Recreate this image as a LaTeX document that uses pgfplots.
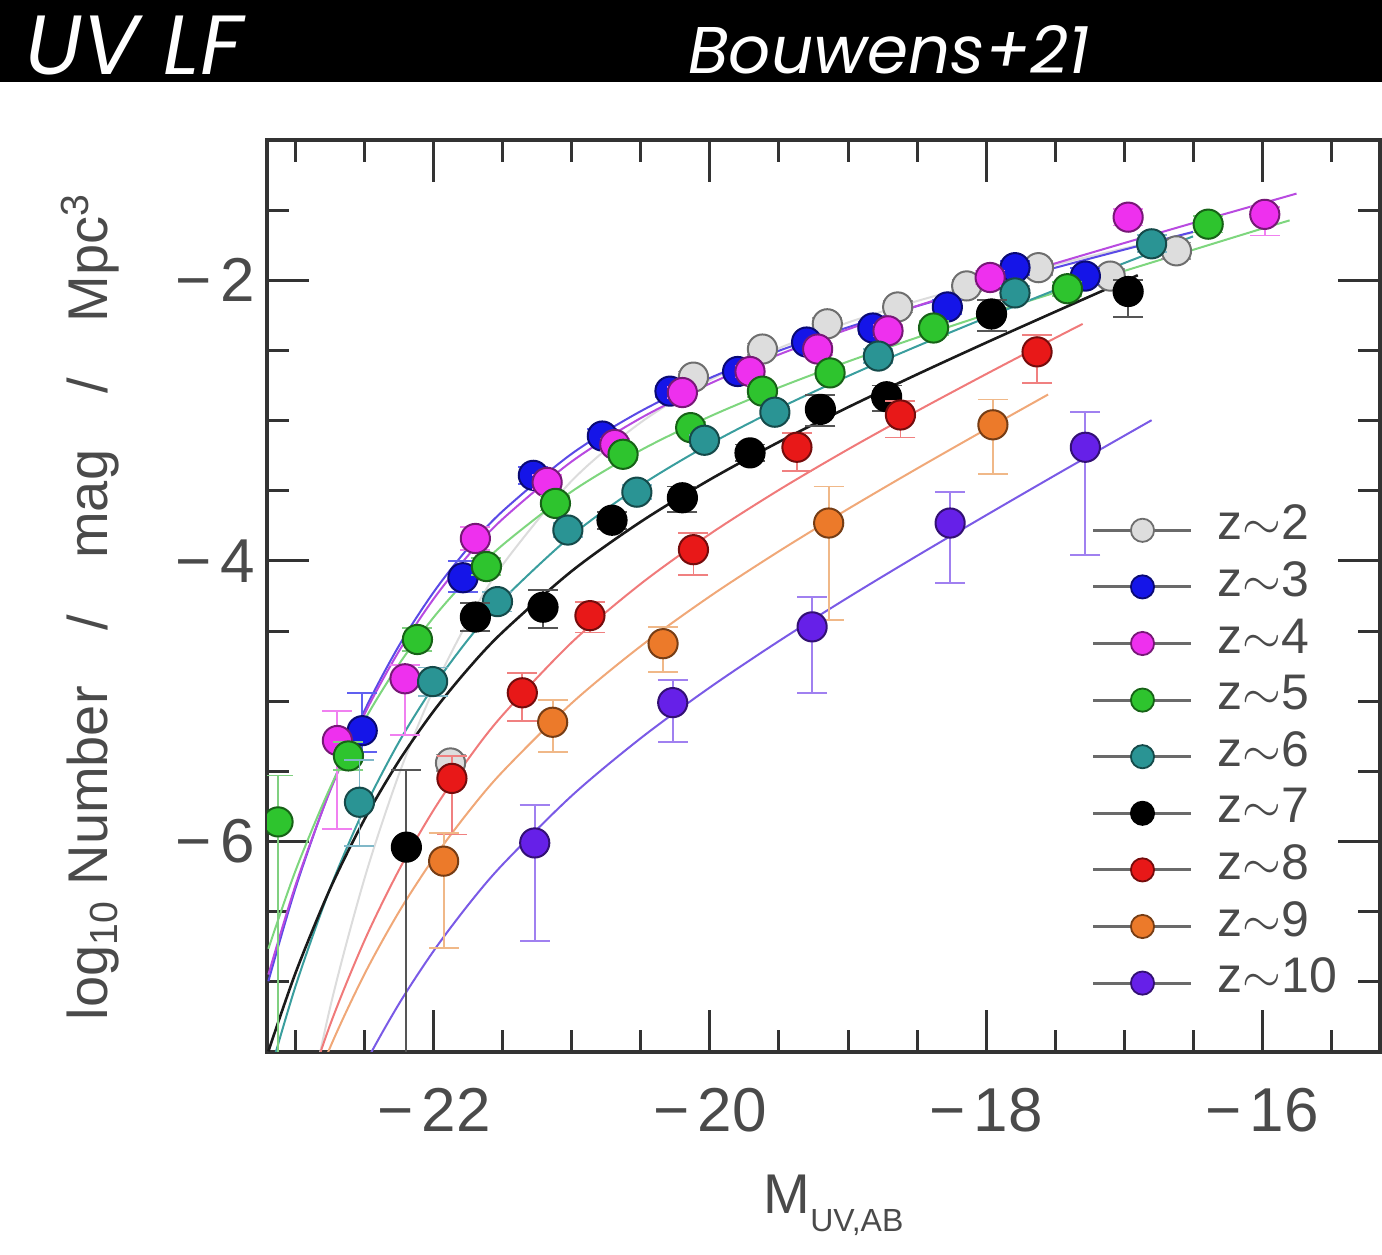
\documentclass[border=0pt]{standalone}
\usepackage{pgfplots}
\pgfplotsset{compat=1.18}
\usepackage{fontspec}
\setmainfont{Liberation Sans}
\newfontfamily\bannerfont{Poppins}

\definecolor{txt}{HTML}{4A4A4A}
\definecolor{axc}{HTML}{333333}
\definecolor{legline}{HTML}{6A6A6A}
% point fills
\definecolor{cA}{HTML}{DDDDDD}
\definecolor{cB}{HTML}{1515E8}
\definecolor{cC}{HTML}{EE30EE}
\definecolor{cD}{HTML}{2EC42E}
\definecolor{cE}{HTML}{2A9494}
\definecolor{cF}{HTML}{000000}
\definecolor{cG}{HTML}{E81818}
\definecolor{cH}{HTML}{EC7A2A}
\definecolor{cI}{HTML}{6620E8}
% fit lines
\definecolor{lA}{HTML}{DCDCDC}
\definecolor{lB}{HTML}{5A4AE6}
\definecolor{lC}{HTML}{B84AE0}
\definecolor{lD}{HTML}{7ED67E}
\definecolor{lE}{HTML}{3A9E9E}
\definecolor{lF}{HTML}{1A1A1A}
\definecolor{lG}{HTML}{F07A7A}
\definecolor{lH}{HTML}{F0A878}
\definecolor{lI}{HTML}{7A5AE6}
% error bars
\definecolor{eA}{HTML}{999999}
\definecolor{eB}{HTML}{6060F0}
\definecolor{eC}{HTML}{F080F0}
\definecolor{eD}{HTML}{80D080}
\definecolor{eE}{HTML}{80B8C8}
\definecolor{eF}{HTML}{555555}
\definecolor{eG}{HTML}{F08080}
\definecolor{eH}{HTML}{F0B888}
\definecolor{eI}{HTML}{A080F0}

\newcommand{\mn}{−\hspace{4pt}}

\pgfplotsset{
  fit/.style={smooth, no marks, line width=1pt, color=#1, forget plot},
  lfpts/.style n args={2}{only marks, mark=*, mark size=7.3pt,
    mark options={fill=#1, draw=#1!50!black, line width=1pt, solid},
    forget plot,
    error bars/.cd, y dir=both, y explicit,
    error bar style={#2, line width=0.9pt},
    error mark options={rotate=90, #2, line width=0.9pt, mark size=7.5pt}},
  legimg/.style={legline, line width=1.5pt, mark=*, mark size=5.8pt,
    mark options={fill=#1, draw=#1!50!black, line width=0.9pt}},
}

\begin{document}
\begin{tikzpicture}[x=1pt,y=1pt]
\path[use as bounding box] (0,0) rectangle (691,627);
\fill[black] (0,586) rectangle (691,627);
\node[anchor=base west,inner sep=0pt,text=white,font=\bannerfont\itshape\fontsize{42}{42}\selectfont] at (12.5,589.5) {UV LF};
\node[anchor=base west,inner sep=0pt,text=white,font=\bannerfont\itshape\fontsize{33}{33}\selectfont] at (344,590) {Bouwens+21};

\begin{axis}[
  at={(133.5pt,101pt)}, anchor=south west,
  scale only axis, width=556.5pt, height=456pt,
  xmin=-23.21, xmax=-15.145, ymin=-7.5, ymax=-1.0,
  clip marker paths=true,
  axis line style={draw=axc, line width=1.6pt},
  xtick={-22,-20,-18,-16},
  xticklabels={{\mn22},{\mn20},{\mn18},{\mn16}},
  minor xtick={-23,-22.5,-21.5,-21,-20.5,-19.5,-19,-18.5,-17.5,-17,-16.5,-15.5},
  ytick={-6,-4,-2},
  yticklabels={{\mn6},{\mn4},{\mn2}},
  minor ytick={-7,-6.5,-5.5,-5,-4.5,-3.5,-3,-2.5,-1.5},
  tick align=inside,
  major tick length=21pt, minor tick length=11pt,
  every tick/.style={axc, line width=1.5pt},
  tick label style={font=\fontsize{31}{31}\selectfont, text=txt, inner sep=0pt},
  xticklabel style={yshift=-18pt},
  yticklabel style={xshift=-6pt},
  xlabel={M\raisebox{-9pt}{\fontsize{16}{16}\selectfont UV,AB}},
  xlabel style={at={(axis description cs:0.509,0)}, anchor=base, yshift=-80.5pt,
    font=\fontsize{28}{28}\selectfont, text=txt, inner sep=0pt},
  ylabel={log\textsubscript{10} Number\quad/\quad mag\quad/\quad Mpc\textsuperscript{3}},
  ylabel style={at={(axis description cs:-0.1437,0.488)}, anchor=base,
    font=\fontsize{28}{28}\selectfont, text=txt, inner sep=0pt},
  legend style={at={(axis cs:-17.232,-3.58)}, anchor=north west,
    draw=none, fill=none, inner sep=0pt, outer sep=0pt,
    font=\fontsize{25}{25}\selectfont, text=txt,
    row sep=0pt, column sep=12.5pt,
    nodes={inner sep=0pt, text height=19pt, text depth=9.3pt}},
  legend cell align=left,
  legend image code/.code={\draw[#1, mark repeat=2, mark phase=2]
    plot coordinates {(0pt,0pt) (24.5pt,0pt) (49pt,0pt)};},
]

% ---- Schechter fit lines ----
\addplot[fit=lA] coordinates {(-23.0,-8.32)(-22.75,-7.172)(-22.5,-6.252)(-22.25,-5.510)(-22.0,-4.909)(-21.75,-4.422)(-21.5,-4.024)(-21.0,-3.427)(-20.5,-3.012)(-20.0,-2.711)(-19.5,-2.484)(-19.0,-2.301)(-18.5,-2.148)(-18.0,-2.013)(-17.5,-1.889)(-17.0,-1.773)(-16.5,-1.661)};
\addplot[fit=lB] coordinates {(-23.2,-6.996)(-23.0,-6.322)(-22.75,-5.625)(-22.5,-5.060)(-22.25,-4.598)(-22.0,-4.219)(-21.75,-3.905)(-21.5,-3.643)(-21.0,-3.235)(-20.5,-2.932)(-20.0,-2.696)(-19.5,-2.502)(-19.0,-2.335)(-18.5,-2.184)(-18.0,-2.044)(-17.5,-1.911)(-17.0,-1.782)(-16.5,-1.655)};
\addplot[fit=lC] coordinates {(-23.2,-6.948)(-23.0,-6.302)(-22.75,-5.632)(-22.5,-5.085)(-22.25,-4.637)(-22.0,-4.267)(-21.75,-3.958)(-21.5,-3.699)(-21.0,-3.290)(-20.5,-2.981)(-20.0,-2.736)(-19.5,-2.529)(-19.0,-2.349)(-18.5,-2.183)(-18.0,-2.028)(-17.5,-1.880)(-17.0,-1.735)(-16.5,-1.592)(-16.0,-1.452)(-15.75,-1.382)};
\addplot[fit=lD] coordinates {(-23.2,-6.764)(-23.0,-6.199)(-22.75,-5.611)(-22.5,-5.129)(-22.25,-4.731)(-22.0,-4.399)(-21.75,-4.121)(-21.5,-3.884)(-21.0,-3.504)(-20.5,-3.210)(-20.0,-2.970)(-19.5,-2.764)(-19.0,-2.579)(-18.5,-2.408)(-18.0,-2.245)(-17.5,-2.088)(-17.0,-1.934)(-16.5,-1.783)(-16.0,-1.632)(-15.8,-1.573)};
\addplot[fit=lE] coordinates {(-23.2,-7.686)(-23.0,-7.021)(-22.75,-6.327)(-22.5,-5.756)(-22.25,-5.284)(-22.0,-4.890)(-21.75,-4.557)(-21.5,-4.274)(-21.0,-3.817)(-20.5,-3.460)(-20.0,-3.166)(-19.5,-2.912)(-19.0,-2.683)(-18.5,-2.470)(-18.0,-2.267)(-17.5,-2.070)(-17.0,-1.878)(-16.5,-1.687)};
\addplot[fit=lF, line width=1.3pt] coordinates {(-23.2,-7.495)(-23.0,-6.928)(-22.75,-6.331)(-22.5,-5.835)(-22.25,-5.419)(-22.0,-5.067)(-21.75,-4.766)(-21.5,-4.505)(-21.0,-4.071)(-20.5,-3.720)(-20.0,-3.420)(-19.5,-3.152)(-19.0,-2.905)(-18.5,-2.671)(-18.0,-2.445)(-17.5,-2.225)(-17.0,-2.007)(-16.9,-1.964)};
\addplot[fit=lG] coordinates {(-23.0,-8.023)(-22.75,-7.299)(-22.5,-6.698)(-22.25,-6.196)(-22.0,-5.771)(-21.75,-5.409)(-21.5,-5.096)(-21.0,-4.579)(-20.5,-4.162)(-20.0,-3.808)(-19.5,-3.494)(-19.0,-3.205)(-18.5,-2.932)(-18.0,-2.669)(-17.5,-2.412)(-17.3,-2.311)};
\addplot[fit=lH] coordinates {(-23.0,-8.085)(-22.75,-7.461)(-22.5,-6.938)(-22.25,-6.495)(-22.0,-6.116)(-21.75,-5.788)(-21.5,-5.499)(-21.0,-5.012)(-20.5,-4.606)(-20.0,-4.252)(-19.5,-3.931)(-19.0,-3.630)(-18.5,-3.342)(-18.0,-3.062)(-17.55,-2.814)};
\addplot[fit=lI] coordinates {(-22.75,-8.10)(-22.5,-7.587)(-22.25,-7.151)(-22.0,-6.776)(-21.75,-6.449)(-21.5,-6.161)(-21.0,-5.672)(-20.5,-5.262)(-20.0,-4.901)(-19.5,-4.571)(-19.0,-4.261)(-18.5,-3.964)(-18.0,-3.675)(-17.5,-3.390)(-17.0,-3.109)(-16.8,-2.997)};

% ---- binned LF points: x, log phi, +err, -err ----
\addplot[lfpts={cA}{eA}] table[row sep=\\, y error plus=ep, y error minus=em] {
x y ep em \\
-21.88 -5.44 0.06 0.06 \\
-20.12 -2.69 0.04 0.04 \\
-19.62 -2.49 0.04 0.04 \\
-19.15 -2.31 0.04 0.04 \\
-18.64 -2.19 0.04 0.04 \\
-18.14 -2.04 0.04 0.04 \\
-17.62 -1.91 0.05 0.05 \\
-17.10 -1.97 0.05 0.05 \\
-16.62 -1.79 0.06 0.06 \\
};
\addplot[lfpts={cB}{eB}] table[row sep=\\, y error plus=ep, y error minus=em] {
x y ep em \\
-22.52 -5.21 0.27 0.15 \\
-21.79 -4.12 0.12 0.10 \\
-21.28 -3.39 0.06 0.06 \\
-20.78 -3.11 0.05 0.05 \\
-20.29 -2.79 0.04 0.04 \\
-19.80 -2.65 0.04 0.04 \\
-19.30 -2.44 0.04 0.04 \\
-18.82 -2.34 0.04 0.04 \\
-18.28 -2.19 0.05 0.05 \\
-17.79 -1.91 0.05 0.05 \\
-17.28 -1.97 0.06 0.06 \\
};
\addplot[lfpts={cC}{eC}] table[row sep=\\, y error plus=ep, y error minus=em] {
x y ep em \\
-22.70 -5.28 0.21 0.63 \\
-22.21 -4.84 0.10 0.40 \\
-21.70 -3.84 0.08 0.08 \\
-21.18 -3.44 0.05 0.05 \\
-20.69 -3.17 0.04 0.04 \\
-20.20 -2.80 0.04 0.04 \\
-19.71 -2.65 0.04 0.04 \\
-19.22 -2.49 0.04 0.04 \\
-18.71 -2.36 0.04 0.04 \\
-17.97 -1.98 0.05 0.05 \\
-16.97 -1.55 0.06 0.06 \\
-15.98 -1.53 0.05 0.15 \\
};
\addplot[lfpts={cD}{eD}] table[row sep=\\, y error plus=ep, y error minus=em] {
x y ep em \\
-23.13 -5.86 0.33 2.50 \\
-22.62 -5.39 0.10 0.10 \\
-22.12 -4.56 0.08 0.08 \\
-21.62 -4.04 0.06 0.06 \\
-21.12 -3.59 0.05 0.05 \\
-20.63 -3.24 0.04 0.04 \\
-20.14 -3.05 0.04 0.04 \\
-19.62 -2.79 0.04 0.04 \\
-19.13 -2.66 0.04 0.04 \\
-18.38 -2.34 0.05 0.05 \\
-17.41 -2.06 0.05 0.05 \\
-16.39 -1.60 0.06 0.06 \\
};
\addplot[lfpts={cE}{eE}] table[row sep=\\, y error plus=ep, y error minus=em] {
x y ep em \\
-22.54 -5.72 0.30 0.31 \\
-22.01 -4.86 0.10 0.10 \\
-21.54 -4.29 0.07 0.07 \\
-21.03 -3.78 0.05 0.05 \\
-20.53 -3.51 0.05 0.05 \\
-20.04 -3.14 0.04 0.04 \\
-19.53 -2.94 0.04 0.04 \\
-18.78 -2.54 0.05 0.05 \\
-17.79 -2.09 0.05 0.05 \\
-16.80 -1.74 0.06 0.06 \\
};
\addplot[lfpts={cF}{eF}] table[row sep=\\, y error plus=ep, y error minus=em] {
x y ep em \\
-22.20 -6.04 0.55 2.50 \\
-21.70 -4.40 0.10 0.10 \\
-21.21 -4.33 0.12 0.15 \\
-20.71 -3.71 0.06 0.06 \\
-20.20 -3.55 0.08 0.10 \\
-19.71 -3.23 0.06 0.06 \\
-19.20 -2.92 0.10 0.12 \\
-18.72 -2.83 0.08 0.10 \\
-17.96 -2.24 0.10 0.12 \\
-16.97 -2.08 0.08 0.18 \\
};
\addplot[lfpts={cG}{eG}] table[row sep=\\, y error plus=ep, y error minus=em] {
x y ep em \\
-21.87 -5.55 0.16 0.40 \\
-21.36 -4.94 0.14 0.20 \\
-20.87 -4.39 0.10 0.12 \\
-20.12 -3.92 0.12 0.18 \\
-19.37 -3.19 0.10 0.17 \\
-18.62 -2.96 0.10 0.16 \\
-17.63 -2.51 0.12 0.22 \\
};
\addplot[lfpts={cH}{eH}] table[row sep=\\, y error plus=ep, y error minus=em] {
x y ep em \\
-21.93 -6.14 0.20 0.62 \\
-21.14 -5.15 0.16 0.21 \\
-20.34 -4.59 0.12 0.20 \\
-19.14 -3.73 0.26 0.69 \\
-17.95 -3.03 0.18 0.35 \\
};
\addplot[lfpts={cI}{eI}] table[row sep=\\, y error plus=ep, y error minus=em] {
x y ep em \\
-21.27 -6.01 0.27 0.70 \\
-20.27 -5.01 0.16 0.28 \\
-19.26 -4.47 0.21 0.47 \\
-18.26 -3.73 0.22 0.43 \\
-17.28 -3.19 0.25 0.77 \\
};

% ---- legend ----
\addlegendimage{legimg=cA}\addlegendentry{z$\sim$2}
\addlegendimage{legimg=cB}\addlegendentry{z$\sim$3}
\addlegendimage{legimg=cC}\addlegendentry{z$\sim$4}
\addlegendimage{legimg=cD}\addlegendentry{z$\sim$5}
\addlegendimage{legimg=cE}\addlegendentry{z$\sim$6}
\addlegendimage{legimg=cF}\addlegendentry{z$\sim$7}
\addlegendimage{legimg=cG}\addlegendentry{z$\sim$8}
\addlegendimage{legimg=cH}\addlegendentry{z$\sim$9}
\addlegendimage{legimg=cI}\addlegendentry{z$\sim$10}
\end{axis}
\end{tikzpicture}
\end{document}
